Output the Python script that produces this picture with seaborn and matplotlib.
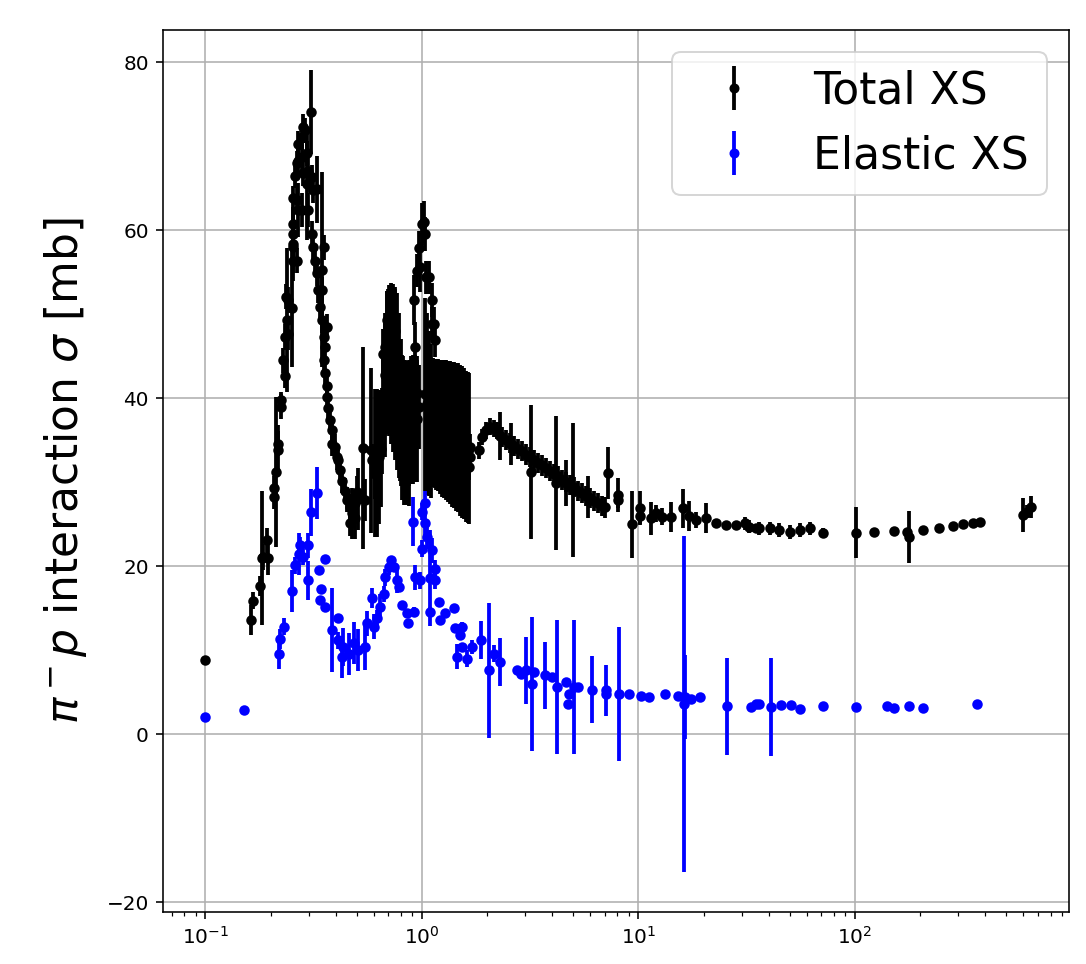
import matplotlib
matplotlib.use("Agg")
import matplotlib.pyplot as plt
import seaborn as sns
import pandas as pd

# pi- p total cross section (beam momentum in GeV/c, sigma in mb)
tot_x = [0.100, 0.162, 0.166, 0.178, 0.182, 0.185, 0.192, 0.194, 0.208, 0.208,
         0.212, 0.217, 0.217, 0.223, 0.223, 0.229, 0.233, 0.233, 0.235, 0.237,
         0.240, 0.241, 0.250, 0.253, 0.255, 0.255, 0.255, 0.255, 0.255, 0.259,
         0.264, 0.264, 0.264, 0.269, 0.269, 0.269, 0.278, 0.278, 0.278, 0.283,
         0.283, 0.288, 0.293, 0.293, 0.299, 0.299, 0.306, 0.310, 0.310, 0.315,
         0.315, 0.320, 0.327, 0.327, 0.332, 0.338, 0.344, 0.344, 0.344, 0.351,
         0.351, 0.351, 0.357, 0.357, 0.363, 0.363, 0.363, 0.370, 0.376, 0.383,
         0.383, 0.397, 0.404, 0.411, 0.418, 0.426, 0.442, 0.450, 0.466, 0.466,
         0.474, 0.491, 0.491, 0.500, 0.509, 0.537, 0.545, 0.582, 0.587, 0.606,
         0.620, 0.630, 0.653, 0.653, 0.664, 0.674, 0.674, 0.689, 0.689, 0.700,
         0.711, 0.711, 0.726, 0.738, 0.750, 0.750, 0.762, 0.774, 0.791, 0.808,
         0.826, 0.840, 0.852, 0.871, 0.915, 0.928, 0.948, 0.965, 0.948, 0.965,
         0.979, 1.000, 1.018, 1.036, 1.043, 1.077, 1.113, 1.113, 1.132, 1.149,
         1.113, 1.130, 1.149, 1.167, 1.186, 1.212, 1.238, 1.264, 1.291, 1.320,
         1.348, 1.377, 1.406, 1.437, 1.468, 1.500, 1.531, 1.564, 1.598, 1.625,
         1.651, 1.651, 1.668, 1.668, 1.830, 1.896, 1.978, 2.064, 2.154, 2.224,
         2.290, 2.345, 2.447, 2.553, 2.580, 2.666, 2.782, 2.903, 3.030, 3.162,
         3.196, 3.300, 3.443, 3.594, 3.750, 3.914, 4.084, 4.170, 4.262, 4.448,
         4.642, 4.642, 4.844, 5.000, 5.055, 5.275, 5.506, 5.746, 5.850, 5.996,
         6.257, 6.530, 6.810, 7.030, 7.24, 8.08, 8.08, 9.31, 10.2, 10.2,
         11.4, 12.0, 12.9, 14.1, 16.0, 17.2, 18.4, 20.4, 22.7, 25.3,
         28.1, 30.9, 32.5, 34.8, 36.2, 40.3, 44.8, 49.9, 55.5, 61.7,
         71.1, 101.4, 122, 151, 173, 178, 206, 244, 285, 316,
         349, 378, 595, 621, 648]
tot_y = [8.8, 13.6, 15.9, 17.6, 21.0, 21.1, 23.1, 21.0, 28.3, 29.3,
         31.2, 33.8, 34.6, 39.0, 39.8, 44.5, 42.7, 47.3, 52.1, 49.3,
         47.7, 51.7, 50.8, 58.0, 56.4, 59.6, 60.8, 58.4, 63.8, 66.5,
         56.4, 63.6, 68.0, 68.3, 70.3, 62.4, 68.7, 71.1, 62.4, 72.3,
         66.8, 71.9, 69.2, 65.5, 67.1, 62.4, 74.1, 66.3, 59.6, 64.8,
         58.0, 56.4, 64.9, 54.9, 52.9, 50.9, 52.9, 49.3, 55.3, 58.0,
         47.3, 44.5, 46.1, 43.0, 48.5, 41.5, 40.1, 38.9, 37.4, 36.2,
         34.6, 34.2, 33.0, 32.6, 31.4, 30.2, 29.0, 27.9, 27.1, 25.1,
         26.3, 27.5, 25.8, 28.8, 28.0, 34.1, 27.9, 33.8, 32.6, 31.0,
         33.5, 34.2, 38.2, 36.0, 45.3, 46.1, 40.0, 49.3, 43.0, 46.0,
         48.0, 45.0, 46.0, 45.5, 45.0, 48.0, 43.0, 41.3, 38.5, 36.5,
         35.9, 35.7, 35.6, 35.4, 51.7, 46.1, 40.6, 39.0, 55.2, 57.9,
         55.6, 60.8, 61.0, 59.6, 54.4, 54.4, 51.7, 48.9, 48.9, 46.9,
         37.1, 37.1, 37.0, 36.9, 36.8, 36.6, 36.4, 36.3, 36.2, 36.0,
         35.9, 35.7, 35.6, 35.4, 35.3, 35.0, 34.8, 34.6, 34.3, 34.1,
         34.0, 31.8, 34.2, 33.0, 33.8, 35.4, 36.2, 36.6, 36.4, 36.2,
         35.5, 35.4, 35.0, 34.7, 34.5, 34.3, 34.0, 33.7, 33.3, 33.0,
         31.2, 32.6, 32.3, 32.0, 31.7, 31.3, 31.0, 29.9, 30.7, 30.3,
         30.0, 29.9, 29.7, 29.1, 29.4, 29.0, 28.7, 28.4, 28.3, 28.1,
         27.8, 27.5, 27.2, 27.0, 31.1, 28.5, 27.9, 25.0, 26.9, 26.0,
         25.7, 26.3, 25.9, 25.9, 26.9, 26.0, 25.5, 25.7, 25.1, 24.9,
         24.9, 25.1, 24.7, 24.5, 24.5, 24.5, 24.3, 24.1, 24.3, 24.5,
         24.0, 24.0, 24.1, 24.2, 24.1, 23.5, 24.3, 24.6, 24.8, 25.0,
         25.2, 25.3, 26.1, 26.5, 27.1]
tot_err = [0.3, 1.8, 1.0, 1.2, 8.0, 1.5, 1.5, 2.0, 1.5, 1.5,
           8.9, 3.0, 1.5, 1.5, 1.0, 1.5, 1.5, 1.5, 1.5, 8.6,
           2.0, 1.5, 7.1, 1.5, 1.5, 1.5, 1.5, 4.4, 1.5, 1.5,
           1.5, 1.5, 1.5, 1.5, 1.5, 3.2, 1.5, 1.5, 2.0, 1.5,
           1.5, 1.5, 1.5, 6.7, 1.5, 2.0, 5.0, 1.5, 1.5, 1.5,
           1.5, 1.5, 4.0, 1.5, 1.5, 1.5, 1.5, 1.5, 11.6, 1.5,
           1.5, 1.5, 1.5, 1.5, 1.5, 1.5, 1.5, 1.5, 1.5, 1.5,
           1.5, 1.5, 1.5, 1.5, 1.5, 1.5, 1.5, 1.5, 1.5, 1.5,
           3.0, 1.5, 2.5, 2.0, 3.7, 12.0, 2.5, 9.8, 2.0, 3.0,
           7.5, 3.0, 3.0, 5.0, 3.0, 4.0, 7.0, 3.5, 7.0, 7.0,
           5.0, 7.0, 7.0, 7.5, 8.0, 4.0, 7.5, 7.0, 8.3, 8.6,
           8.6, 8.4, 8.3, 8.2, 3.0, 3.0, 4.0, 5.0, 2.0, 2.0,
           3.0, 2.5, 2.5, 2.0, 2.0, 2.0, 2.0, 2.0, 2.0, 2.0,
           7.7, 7.7, 7.7, 7.8, 7.9, 8.0, 8.2, 8.2, 8.3, 8.4,
           8.5, 8.6, 8.7, 8.8, 8.9, 9.0, 9.0, 9.0, 9.0, 9.0,
           9.0, 1.5, 1.5, 1.5, 1.0, 1.0, 1.0, 1.0, 1.0, 1.0,
           2.9, 1.2, 1.2, 1.2, 2.5, 1.2, 1.2, 1.2, 1.2, 1.2,
           8.0, 1.2, 1.2, 1.2, 1.2, 1.2, 1.2, 8.0, 1.2, 1.2,
           1.2, 2.7, 1.2, 8.0, 1.2, 1.2, 1.2, 1.2, 2.5, 1.2,
           1.2, 1.2, 1.2, 1.2, 3.1, 2.0, 1.0, 4.0, 2.0, 1.0,
           2.0, 1.0, 1.0, 1.8, 2.3, 1.8, 1.0, 1.8, 0.5, 0.5,
           0.5, 0.8, 0.8, 0.5, 0.8, 0.8, 0.8, 0.8, 0.8, 0.8,
           0.5, 3.0, 0.3, 0.3, 0.3, 3.1, 0.3, 0.3, 0.3, 0.3,
           0.3, 0.3, 2.0, 0.8, 1.3]

# densely measured resonance region 0.6 - 1.1 GeV/c (large errors)
res_x = [0.606, 0.619, 0.632, 0.646, 0.660, 0.674, 0.689, 0.703, 0.719, 0.734,
         0.750, 0.766, 0.782, 0.799, 0.817, 0.834, 0.852, 0.871, 0.889, 0.908,
         0.928, 0.948, 1.032, 1.055, 1.077, 1.101]
res_y = [32.3, 32.3, 33.0, 34.0, 40.0, 42.8, 44.3, 44.5, 44.1, 43.6,
         42.9, 42.0, 40.3, 38.3, 37.2, 37.0, 36.9, 37.0, 37.4, 37.5,
         37.6, 37.5, 40.5, 39.3, 38.2, 37.3]
res_err = [8.8, 8.8, 8.0, 7.0, 5.0, 6.8, 8.5, 9.0, 9.6, 10.0,
           10.3, 10.5, 9.8, 8.8, 7.8, 7.6, 7.5, 7.5, 7.6, 7.7,
           7.6, 7.5, 11.5, 10.8, 9.8, 9.2]

# pi- p elastic cross section
el_x = [0.100, 0.151, 0.218, 0.221, 0.231, 0.250, 0.259, 0.270, 0.273, 0.283,
        0.297, 0.299, 0.307, 0.327, 0.357, 0.335, 0.342, 0.338, 0.355, 0.383,
        0.411, 0.411, 0.434, 0.458, 0.426, 0.483, 0.509, 0.546, 0.556, 0.587,
        0.598, 0.619, 0.641, 0.665, 0.676, 0.701, 0.721, 0.740, 0.766, 0.780,
        0.808, 0.852, 0.861, 0.915, 0.906, 0.925, 0.982, 1.000, 1.036, 1.036,
        1.055, 1.000, 1.113, 1.152, 1.145, 1.092, 1.092, 1.195, 1.215, 1.282,
        1.402, 1.426, 1.504, 1.531, 1.531, 1.452, 1.615, 1.704, 1.875, 2.036,
        2.147, 2.304, 2.754, 2.852, 3.03, 3.206, 3.29, 3.70, 4.00, 4.22,
        4.61, 4.78, 4.74, 5.04, 5.27, 6.08, 7.06, 7.06, 8.14, 9.06,
        10.25, 11.2, 13.2, 15.2, 16.3, 16.4, 17.5, 19.2, 25.6, 33.1,
        34.9, 36.2, 41.0, 45.6, 50.7, 55.8, 71.1, 101.4, 140.6, 151,
        178, 206, 367]
el_y = [2.0, 2.9, 9.6, 11.3, 12.8, 17.0, 20.1, 21.5, 22.5, 21.1,
        18.3, 22.5, 26.4, 28.7, 20.8, 19.5, 17.3, 16.0, 15.1, 12.4,
        13.8, 11.2, 10.4, 9.6, 9.2, 10.8, 10.0, 10.4, 13.2, 16.2,
        12.8, 13.8, 15.2, 16.7, 18.7, 19.9, 20.7, 19.9, 18.3, 17.5,
        15.4, 14.4, 13.2, 14.6, 25.3, 18.7, 18.3, 26.5, 27.5, 25.1,
        23.5, 22.1, 21.9, 19.7, 18.3, 18.6, 14.6, 15.7, 13.6, 14.4,
        15.0, 12.6, 11.8, 10.4, 12.8, 9.2, 9.0, 10.4, 11.2, 7.6,
        9.6, 8.6, 7.6, 7.2, 7.6, 6.0, 7.4, 7.0, 6.8, 5.6,
        6.2, 4.8, 3.6, 5.6, 5.6, 5.3, 5.2, 4.8, 4.8, 4.8,
        4.6, 4.4, 4.8, 4.6, 3.6, 4.4, 4.2, 4.4, 3.3, 3.25,
        3.6, 3.6, 3.25, 3.45, 3.45, 3.05, 3.33, 3.25, 3.33, 3.17,
        3.33, 3.17, 3.57]
el_err = [0.2, 0.3, 1.8, 1.2, 1.0, 2.5, 1.0, 2.5, 1.0, 1.0,
          2.3, 1.5, 2.8, 3.1, 0.5, 0.5, 0.5, 0.5, 0.5, 5.0,
          0.5, 1.0, 2.3, 2.5, 2.5, 2.5, 2.5, 2.8, 1.5, 1.2,
          1.5, 1.0, 1.5, 1.0, 1.0, 1.0, 0.5, 0.5, 1.5, 0.5,
          0.5, 0.5, 0.5, 0.5, 2.9, 1.5, 1.0, 1.0, 1.5, 1.5,
          1.5, 1.0, 1.5, 1.0, 1.0, 5.7, 0.5, 0.5, 0.5, 0.5,
          0.5, 0.5, 0.5, 0.5, 0.5, 1.5, 1.0, 0.8, 2.3, 8.0,
          1.0, 2.9, 0.5, 0.5, 4.0, 8.0, 0.5, 4.0, 0.5, 8.0,
          0.5, 0.5, 0.5, 8.0, 0.5, 4.0, 3.0, 0.5, 8.0, 0.3,
          0.3, 0.3, 0.3, 0.3, 20.0, 5.0, 0.3, 0.3, 5.8, 0.3,
          0.3, 0.3, 5.8, 0.3, 0.3, 0.3, 0.3, 0.3, 0.3, 0.3,
          0.3, 0.3, 0.3]

df = pd.concat([
    pd.DataFrame({"p": tot_x, "xs": tot_y, "err": tot_err, "kind": "Total XS"}),
    pd.DataFrame({"p": res_x, "xs": res_y, "err": res_err, "kind": "Total XS"}),
    pd.DataFrame({"p": el_x, "xs": el_y, "err": el_err, "kind": "Elastic XS"}),
])
colors = {"Total XS": "k", "Elastic XS": "b"}

fig = plt.figure(figsize=(1086 / 144, 964 / 144), dpi=144)
ax = fig.add_axes([0.150, 0.054, 0.834, 0.915])

z = 2
for kind, sub in df.groupby("kind", sort=False):
    c = colors[kind]
    ax.errorbar(sub["p"], sub["xs"], yerr=sub["err"], fmt="none",
                ecolor=c, elinewidth=1.9, zorder=z)
    sns.scatterplot(data=sub, x="p", y="xs", color=c, s=18,
                    edgecolor=c, linewidth=1, legend=False, ax=ax, zorder=z + 0.1)
    # empty errorbar just for the legend handle
    ax.errorbar([], [], yerr=[], fmt="o", color=c, ms=4, elinewidth=1.9, label=kind)
    z += 0.2

ax.set_xscale("log")
ax.set_xlim(0.0636, 970)
ax.set_xlabel("")
ax.set_ylabel(r"$\pi^- p$ interaction $\sigma$ [mb]", fontsize=22, labelpad=9)
ax.grid(True)
ax.legend(loc="upper right", fontsize=22)

fig.savefig("out.png", dpi=144)
